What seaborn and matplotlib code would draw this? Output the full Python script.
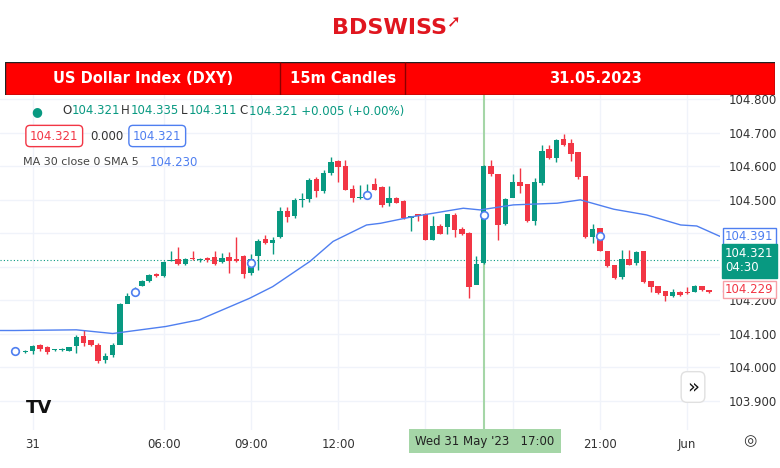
import matplotlib
matplotlib.use("Agg")
import matplotlib.pyplot as plt
import seaborn as sns
import numpy as np
import pandas as pd
from matplotlib.patches import Rectangle

sns.set_style("white")
plt.rcParams['font.family'] = ['DejaVu Sans']

idx = list(range(-1, 94))
opens = [104.047,104.050,104.066,104.061,104.052,104.053,104.050,104.064,104.094,104.082,104.068,104.022,104.037,104.067,104.190,104.220,104.244,104.259,104.279,104.273,104.316,104.322,104.309,104.326,104.320,104.327,104.328,104.314,104.328,104.322,104.331,104.281,104.331,104.384,104.371,104.388,104.468,104.452,104.500,104.502,104.562,104.527,104.580,104.616,104.601,104.532,104.506,104.508,104.548,104.537,104.490,104.505,104.498,104.446,104.457,104.458,104.381,104.422,104.418,104.455,104.412,104.402,104.247,104.311,104.601,104.578,104.427,104.505,104.553,104.547,104.438,104.550,104.651,104.624,104.681,104.669,104.644,104.572,104.388,104.417,104.348,104.306,104.271,104.322,104.313,104.346,104.259,104.243,104.228,104.214,104.226,104.222,104.225,104.242,104.231]
closes = [104.048,104.064,104.056,104.045,104.053,104.055,104.060,104.092,104.074,104.066,104.018,104.035,104.067,104.189,104.213,104.230,104.259,104.275,104.273,104.315,104.320,104.309,104.324,104.322,104.321,104.320,104.310,104.327,104.316,104.316,104.280,104.323,104.376,104.371,104.379,104.468,104.450,104.500,104.503,104.560,104.525,104.580,104.614,104.597,104.530,104.505,104.508,104.518,104.530,104.485,104.505,104.490,104.445,104.451,104.451,104.381,104.422,104.399,104.458,104.410,104.398,104.241,104.309,104.601,104.576,104.425,104.502,104.552,104.540,104.437,104.553,104.646,104.624,104.679,104.664,104.637,104.568,104.388,104.413,104.348,104.303,104.266,104.323,104.307,104.343,104.254,104.241,104.221,104.214,104.226,104.216,104.221,104.242,104.230,104.226]
highs = [104.052,104.066,104.071,104.063,104.056,104.057,104.062,104.097,104.111,104.072,104.072,104.042,104.072,104.192,104.221,104.240,104.262,104.280,104.281,104.318,104.347,104.360,104.326,104.348,104.326,104.329,104.348,104.341,104.345,104.389,104.334,104.338,104.383,104.394,104.390,104.480,104.480,104.505,104.520,104.565,104.567,104.590,104.628,104.619,104.620,104.545,104.545,104.547,104.565,104.540,104.540,104.510,104.500,104.451,104.455,104.460,104.451,104.428,104.450,104.461,104.420,104.404,104.331,104.604,104.619,104.428,104.505,104.577,104.594,104.442,104.565,104.664,104.664,104.681,104.696,104.682,104.574,104.392,104.429,104.349,104.321,104.295,104.350,104.349,104.348,104.276,104.244,104.231,104.224,104.234,104.228,104.240,104.245,104.243,104.231]
lows = [104.043,104.040,104.050,104.041,104.048,104.050,104.048,104.042,104.063,104.063,104.012,104.012,104.031,104.169,104.201,104.215,104.242,104.256,104.271,104.271,104.316,104.307,104.307,104.321,104.315,104.315,104.307,104.311,104.283,104.314,104.266,104.276,104.292,104.367,104.339,104.386,104.435,104.447,104.480,104.495,104.508,104.520,104.575,104.554,104.528,104.495,104.504,104.508,104.528,104.479,104.483,104.490,104.442,104.407,104.438,104.379,104.379,104.398,104.397,104.390,104.396,104.207,104.290,104.310,104.570,104.380,104.424,104.550,104.521,104.433,104.424,104.543,104.622,104.614,104.662,104.616,104.562,104.386,104.371,104.346,104.301,104.264,104.265,104.306,104.305,104.252,104.226,104.219,104.197,104.211,104.214,104.220,104.224,104.228,104.223]

ma_x = [-4.5,-2.5,6.0,11.0,18.3,22.9,29.8,33.0,38.1,41.3,45.9,47.8,52.3,59.2,61.5,66.1,72.1,75.3,79.9,84.4,89.1,91.3,94.5]
ma_y = [104.110,104.110,104.112,104.101,104.122,104.142,104.206,104.241,104.316,104.376,104.425,104.430,104.450,104.475,104.470,104.485,104.490,104.500,104.472,104.455,104.425,104.422,104.391]

circle_x = [-2.4, 14, 30, 46, 62, 78, 95.5]
circle_y = [104.049, 104.225, 104.311, 104.515, 104.455, 104.392, 104.229]

tick_pos = [0, 18, 30, 42, 78, 90]
tick_lab = ["31", "06:00", "09:00", "12:00", "21:00", "Jun"]
yticks = [103.9, 104.0, 104.1, 104.2, 104.5, 104.6, 104.7, 104.8]

GREEN = "#089981"; RED = "#F23645"; BLUE = "#4f7ff0"

fig = plt.figure(figsize=(7.8, 4.68), dpi=100)
ax = fig.add_axes([0, 38/468, 720/780, (430-95)/468])
ax.set_xlim(-4.5, 94.5)
ax.set_ylim(103.813, 104.813)
for y in yticks + [104.3, 104.4]:
    ax.axhline(y, color="#f0f3fa", lw=1, zorder=0)
for t in tick_pos + [54, 66]:
    ax.axvline(t, color="#f0f3fa", lw=1, zorder=0)

df = pd.DataFrame({"k": idx, "o": opens, "c": closes, "h": highs, "l": lows})
cols = [GREEN if c >= o else RED for o, c in zip(df.o, df.c)]
ax.vlines(df.k, df.l, df.h, colors=cols, lw=1, zorder=2)
body = np.maximum(np.abs(df.c - df.o), 0.003)
ax.bar(df.k, body, bottom=np.minimum(df.o, df.c), width=0.75, color=cols, lw=0, zorder=3)

sns.lineplot(x=ma_x, y=ma_y, ax=ax, color=BLUE, lw=1, zorder=4)
ax.scatter(circle_x, circle_y, s=30, facecolor="white", edgecolor=BLUE, lw=1.2, zorder=5, clip_on=False)
ax.axhline(104.321, color=GREEN, lw=0.8, ls=(0, (1, 2)), zorder=1)
ax.axvline(62, color="#a5d6a7", lw=1.5, zorder=1)

ax.set_xticks(tick_pos)
ax.set_xticklabels(tick_lab, fontsize=8.5, color="#333")
ax.tick_params(axis="x", length=0, pad=6)
ax.yaxis.tick_right()
ax.set_yticks(yticks)
ax.set_yticklabels([f"{v:.3f}" for v in yticks], fontsize=8.5, color="#333")
ax.tick_params(axis="y", length=0, pad=6)
for s in ax.spines.values():
    s.set_visible(False)

def plabel(y, txt, fc, ec, tc):
    ax.text(95.2, y, txt, fontsize=8.5, color=tc, va="center", ha="left",
            bbox=dict(boxstyle="square,pad=0.2", fc=fc, ec=ec, lw=1), clip_on=False, zorder=6)
plabel(104.391, "104.391", "white", BLUE, BLUE)
ax.text(95.2, 104.318, "104.321\n04:30", fontsize=8.5, color="white", va="center", ha="left",
        bbox=dict(boxstyle="square,pad=0.3", fc=GREEN, ec=GREEN), clip_on=False, zorder=6, linespacing=1.1)
plabel(104.232, "104.229", "white", "#f7a1a8", RED)

fig.text(485/780, 1 - 441/468, "Wed 31 May '23   17:00", fontsize=8.5, color="#222", ha="center", va="center",
         bbox=dict(boxstyle="square,pad=0.5", fc="#a5d6a7", ec="none"))

fs = 8.5
fig.text(31/780, 1-112/468, "●", color=GREEN, fontsize=9, va="center")
fig.text(62/780, 1-111/468, "O", color="#333", fontsize=fs, va="center")
fig.text(72/780, 1-111/468, "104.321", color=GREEN, fontsize=fs, va="center")
fig.text(121/780, 1-111/468, "H", color="#333", fontsize=fs, va="center")
fig.text(131/780, 1-111/468, "104.335", color=GREEN, fontsize=fs, va="center")
fig.text(181/780, 1-111/468, "L", color="#333", fontsize=fs, va="center")
fig.text(189/780, 1-111/468, "104.311", color=GREEN, fontsize=fs, va="center")
fig.text(239/780, 1-111/468, "C", color="#333", fontsize=fs, va="center")
fig.text(249/780, 1-111/468, "104.321 +0.005 (+0.00%)", color=GREEN, fontsize=fs, va="center")
fig.text(30/780, 1-136/468, "104.321", color=RED, fontsize=fs, va="center",
         bbox=dict(boxstyle="round,pad=0.35", fc="white", ec=RED))
fig.text(90/780, 1-136/468, "0.000", color="#333", fontsize=fs, va="center")
fig.text(133/780, 1-136/468, "104.321", color=BLUE, fontsize=fs, va="center",
         bbox=dict(boxstyle="round,pad=0.35", fc="white", ec=BLUE))
fig.text(23/780, 1-162/468, "MA 30 close 0 SMA 5", color="#444", fontsize=8, va="center")
fig.text(150/780, 1-162/468, "104.230", color=BLUE, fontsize=fs, va="center")
fig.text(26/780, 1-408/468, "TV", color="#111", fontsize=13, fontweight="bold", va="center")
fig.text(693/780, 1-387/468, "»", color="#111", fontsize=14, ha="center", va="center",
         bbox=dict(boxstyle="round,pad=0.3", fc="white", ec="#e0e0e0"))
fig.text(750/780, 1-441/468, "◎", color="#333", fontsize=11, ha="center", va="center")

fig.text(0.5, 1-28/468, "BDSWISS", fontsize=16, fontweight="bold", color="#e0161f", ha="center", va="center")
fig.text(0.5 + 64/780, 1-22/468, "➚", fontsize=12, color="#e0161f", ha="center", va="center")
hb = fig.add_axes([5/780, 1-95/468, 770/780, 33/468])
hb.set_xlim(0, 770); hb.set_ylim(0, 33); hb.axis("off")
hb.add_patch(Rectangle((0, 0), 770, 33, fc="#ff0000", ec="#222", lw=1))
for xs in [275, 400]:
    hb.plot([xs, xs], [0, 33], color="#8b0000", lw=1)
hb.text(138, 16.5, "US Dollar Index (DXY)", color="white", fontsize=10.5, fontweight="bold", ha="center", va="center")
hb.text(338, 16.5, "15m Candles", color="white", fontsize=10.5, fontweight="bold", ha="center", va="center")
hb.text(590, 16.5, "31.05.2023", color="white", fontsize=10.5, fontweight="bold", ha="center", va="center")

fig.savefig("out.png", dpi=100, facecolor="white")
